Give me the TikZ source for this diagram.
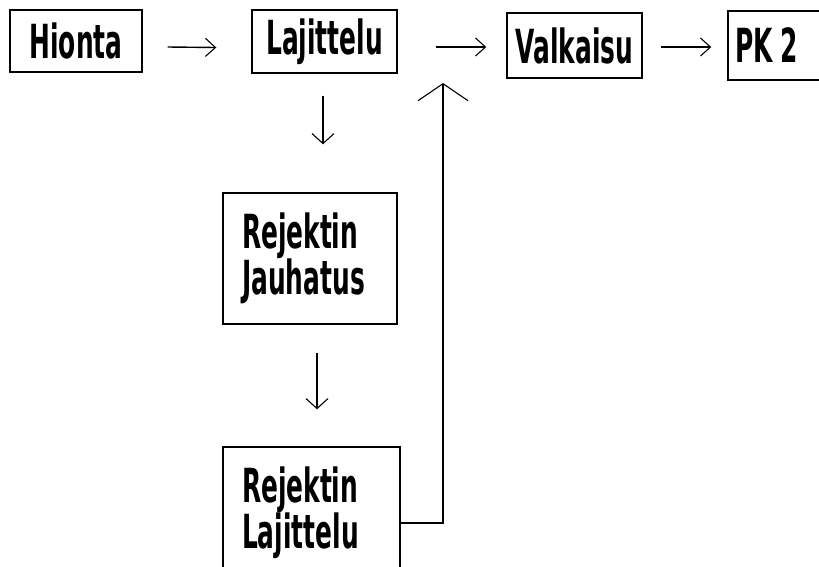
\documentclass[tikz,border=0pt]{standalone}
\usepackage{fontspec}
\setmainfont{DejaVu Sans}[FakeStretch=0.53]
\usetikzlibrary{arrows.meta}

\begin{document}
\begin{tikzpicture}[x=1pt, y=-1pt,
  box/.style={draw, line width=1.4pt, inner sep=0pt, font=\fontsize{47}{46}\selectfont\bfseries,
              anchor=center},
  onebox/.style={box, align=center},
  twobox/.style={box, align=left},
  link/.style={line width=1.4pt},
  harrow/.style={link, -{Straight Barb[length=10pt, width=18pt, line width=1.1pt]}},
  varrow/.style={link, -{Straight Barb[length=10pt, width=22pt, line width=1.1pt]}},
  uarrow/.style={link, -{Straight Barb[length=17pt, width=50pt, line width=1.1pt]}}
]
\useasboundingbox (0,0) rectangle (819,566);
\clip (0,0) rectangle (819,566);

% top row of process steps
\node[onebox, minimum width=132pt, minimum height=62pt] (hionta) at (76,41) {Hionta};
\node[onebox, minimum width=145pt, minimum height=63pt] (lajittelu) at (324.5,41.5) {Lajittelu};
\node[onebox, minimum width=135pt, minimum height=65pt] (valkaisu) at (574.5,45.5) {Valkaisu};
\node[box, minimum width=94pt, minimum height=69pt, text width=80pt, align=left] (pk) at (775,45.5) {PK\,2};

% reject line
\node[twobox, minimum width=174pt, minimum height=131pt, text width=136pt] (jauhatus) at (310,258.5)
  {Rejektin\\Jauhatus};
\node[twobox, minimum width=177pt, minimum height=131pt, text width=139pt] (rlajittelu) at (311.5,512.5)
  {Rejektin\\Lajittelu};

\coordinate (merge) at (443,83);

% connectors
\draw[harrow] ([xshift=25pt,yshift=-6pt]hionta.east) -- ([xshift=-35pt,yshift=-6pt]lajittelu.west);
\draw[harrow] ([xshift=38pt,yshift=-5.5pt]lajittelu.east) -- ([xshift=-20pt,yshift=-1.5pt]valkaisu.west);
\draw[harrow] ([xshift=18pt,yshift=-1.5pt]valkaisu.east) -- ([xshift=-16pt,yshift=-1.5pt]pk.west);
\draw[varrow] ([xshift=-1.5pt,yshift=-22pt]lajittelu.south) -- ([xshift=13pt,yshift=48pt]jauhatus.north);
\draw[varrow] ([xshift=7pt,yshift=-28pt]jauhatus.south) -- ([xshift=5.5pt,yshift=37pt]rlajittelu.north);
\draw[uarrow] ([yshift=-10.5pt]rlajittelu.east) -| (merge);
\end{tikzpicture}
\end{document}
